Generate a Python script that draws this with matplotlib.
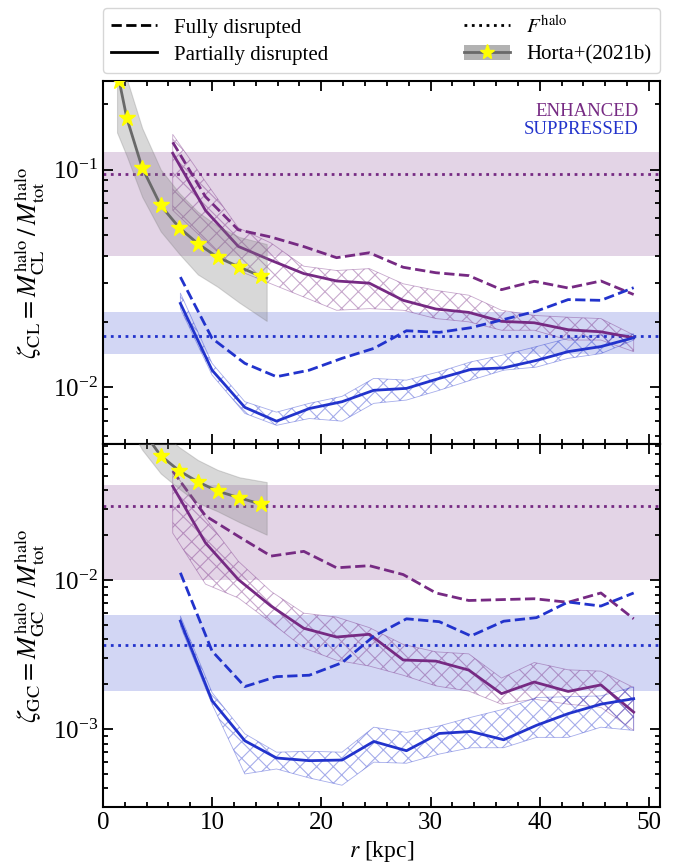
import matplotlib
matplotlib.use("Agg")
import matplotlib.pyplot as plt
from matplotlib.lines import Line2D
from matplotlib.patches import Patch
from matplotlib.ticker import MultipleLocator

plt.rcParams["font.family"] = ["Liberation Serif", "DejaVu Serif"]
plt.rcParams["mathtext.fontset"] = "stix"
plt.rcParams["axes.linewidth"] = 1.5
plt.rcParams["hatch.linewidth"] = 0.8

PURPLE = "#762a83"
BLUE = "#2233cc"

# radial bins (kpc)
r_purple = [6.4, 9.4, 12.4, 15.4, 18.4, 21.4, 24.4, 27.5, 30.5, 33.5, 36.5, 39.5, 42.6, 45.6, 48.6]
r_blue = [7.1, 10.0, 13.0, 15.9, 18.9, 21.9, 24.8, 27.8, 30.8, 33.7, 36.7, 39.7, 42.6, 45.6, 48.6]

# ---- top panel: CL ----
cl_enh_part = [0.1188, 0.0649, 0.0444, 0.0383, 0.0333, 0.0308, 0.0301, 0.0251, 0.0229, 0.0221, 0.0201, 0.0198, 0.0184, 0.0180, 0.0169]
cl_enh_part_hi = [0.145, 0.088, 0.054, 0.046, 0.036, 0.0344, 0.0351, 0.0299, 0.0279, 0.0265, 0.0226, 0.0214, 0.0210, 0.0207, 0.0174]
cl_enh_part_lo = [0.065, 0.047, 0.0344, 0.0299, 0.026, 0.0226, 0.023, 0.0226, 0.0207, 0.0200, 0.0183, 0.0183, 0.0165, 0.0165, 0.0146]
cl_enh_full = [0.1334, 0.075, 0.0529, 0.049, 0.0443, 0.0394, 0.0415, 0.0356, 0.0336, 0.0326, 0.0281, 0.0307, 0.0286, 0.0308, 0.0267]
cl_sup_part = [0.0243, 0.0120, 0.0081, 0.0070, 0.0080, 0.0086, 0.0097, 0.0099, 0.0110, 0.0121, 0.0123, 0.0133, 0.0146, 0.0154, 0.0169]
cl_sup_part_hi = [0.0271, 0.0129, 0.0086, 0.0077, 0.00845, 0.0091, 0.0110, 0.0108, 0.0118, 0.0131, 0.0141, 0.0154, 0.0168, 0.0174, 0.0176]
cl_sup_part_lo = [0.0230, 0.0114, 0.0076, 0.0067, 0.0072, 0.0070, 0.00845, 0.00875, 0.0097, 0.0108, 0.0120, 0.0124, 0.0136, 0.0143, 0.0165]
cl_sup_full = [0.0321, 0.0168, 0.0129, 0.0112, 0.0120, 0.0136, 0.0151, 0.0182, 0.0179, 0.0188, 0.0205, 0.0224, 0.0253, 0.0251, 0.0287]
cl_F_enh, cl_F_enh_lo, cl_F_enh_hi = 0.095, 0.040, 0.121
cl_F_sup, cl_F_sup_lo, cl_F_sup_hi = 0.0173, 0.0142, 0.0223

# ---- bottom panel: GC ----
gc_enh_part = [0.0427, 0.0178, 0.0101, 0.0067, 0.00475, 0.00415, 0.00433, 0.00291, 0.00286, 0.00249, 0.00173, 0.00207, 0.00179, 0.00198, 0.0013]
gc_enh_part_hi = [0.0551, 0.0261, 0.0134, 0.0084, 0.0060, 0.00565, 0.0048, 0.0037, 0.0033, 0.0032, 0.0022, 0.0028, 0.0025, 0.00245, 0.0019]
gc_enh_part_lo = [0.0207, 0.0094, 0.0076, 0.0052, 0.0035, 0.0029, 0.00265, 0.0023, 0.00195, 0.0018, 0.00147, 0.00159, 0.00147, 0.0014, 0.00098]
gc_enh_full = [0.054, 0.027, 0.0197, 0.0145, 0.0156, 0.0121, 0.0125, 0.0109, 0.0082, 0.0073, 0.0074, 0.0075, 0.0071, 0.0082, 0.0055]
gc_sup_part = [0.00531, 0.00155, 0.000835, 0.00064, 0.000614, 0.00062, 0.000826, 0.000716, 0.000935, 0.000964, 0.000848, 0.00106, 0.00127, 0.00147, 0.0016]
gc_sup_part_hi = [0.00574, 0.00176, 0.00093, 0.0007, 0.00071, 0.0007, 0.00103, 0.00095, 0.00105, 0.0012, 0.00136, 0.00163, 0.00165, 0.00167, 0.00192]
gc_sup_part_lo = [0.00492, 0.00147, 0.0005, 0.00054, 0.00047, 0.00042, 0.0006, 0.00059, 0.00068, 0.00075, 0.00075, 0.00088, 0.00088, 0.00103, 0.00098]
gc_sup_full = [0.0112, 0.00334, 0.00193, 0.00225, 0.0023, 0.00279, 0.0042, 0.0055, 0.00526, 0.00422, 0.0053, 0.0056, 0.00713, 0.0067, 0.0082]
gc_F_enh, gc_F_enh_lo, gc_F_enh_hi = 0.0313, 0.0100, 0.0438
gc_F_sup, gc_F_sup_lo, gc_F_sup_hi = 0.00367, 0.0018, 0.0058

# ---- Horta+(2021b), same in both panels ----
horta_r = [1.5, 2.2, 3.6, 5.3, 7.0, 8.7, 10.5, 12.5, 14.5]
horta_z = [0.255, 0.172, 0.102, 0.0684, 0.0541, 0.0457, 0.0396, 0.0357, 0.0323]
horta_line_r = [1.3, 1.5, 2.2, 3.6, 5.3, 7.0, 8.7, 10.5, 12.5, 14.5, 15.0]
horta_line_z = [0.29, 0.255, 0.172, 0.102, 0.0684, 0.0541, 0.0457, 0.0396, 0.0357, 0.0323, 0.0318]
horta_band_r = [1.3, 2.2, 3.6, 5.3, 7.0, 8.7, 10.5, 12.5, 15.0]
horta_band_hi = [0.40, 0.26, 0.155, 0.10, 0.078, 0.064, 0.055, 0.049, 0.0455]
horta_band_lo = [0.148, 0.115, 0.075, 0.052, 0.041, 0.033, 0.029, 0.0245, 0.0202]

fig, axes = plt.subplots(2, 1, figsize=(6.81, 8.67), dpi=100, sharex=True)
fig.subplots_adjust(left=0.151, right=0.969, top=0.9066, bottom=0.0692, hspace=0)

panels = [
    (axes[0], cl_enh_part, cl_enh_part_lo, cl_enh_part_hi, cl_enh_full,
     cl_sup_part, cl_sup_part_lo, cl_sup_part_hi, cl_sup_full,
     (cl_F_enh, cl_F_enh_lo, cl_F_enh_hi), (cl_F_sup, cl_F_sup_lo, cl_F_sup_hi),
     (0.0055, 0.255), r"$\zeta_{\rm CL} = M^{\rm halo}_{\rm CL}\,/\,M^{\rm halo}_{\rm tot}$"),
    (axes[1], gc_enh_part, gc_enh_part_lo, gc_enh_part_hi, gc_enh_full,
     gc_sup_part, gc_sup_part_lo, gc_sup_part_hi, gc_sup_full,
     (gc_F_enh, gc_F_enh_lo, gc_F_enh_hi), (gc_F_sup, gc_F_sup_lo, gc_F_sup_hi),
     (0.0003, 0.082), r"$\zeta_{\rm GC} = M^{\rm halo}_{\rm GC}\,/\,M^{\rm halo}_{\rm tot}$"),
]

for (ax, ep, ep_lo, ep_hi, ef, sp, sp_lo, sp_hi, sf, F_enh, F_sup, ylim, ylab) in panels:
    # population fractions with their spread
    ax.axhspan(F_enh[1], F_enh[2], color=PURPLE, alpha=0.2, lw=0, zorder=0)
    ax.axhspan(F_sup[1], F_sup[2], color=BLUE, alpha=0.2, lw=0, zorder=0)
    ax.axhline(F_enh[0], color=PURPLE, ls=":", lw=2, zorder=1)
    ax.axhline(F_sup[0], color=BLUE, ls=":", lw=2, zorder=1)

    # partially disrupted spread (hatched)
    ax.fill_between(r_purple, ep_lo, ep_hi, facecolor="none", edgecolor=PURPLE,
                    hatch="xx", alpha=0.4, lw=0.6, zorder=2)
    ax.fill_between(r_blue, sp_lo, sp_hi, facecolor="none", edgecolor=BLUE,
                    hatch="xx", alpha=0.4, lw=0.6, zorder=2)

    ax.plot(r_purple, ep, color=PURPLE, lw=2, zorder=3)
    ax.plot(r_purple, ef, color=PURPLE, lw=2, ls="--", zorder=3)
    ax.plot(r_blue, sp, color=BLUE, lw=2, zorder=3)
    ax.plot(r_blue, sf, color=BLUE, lw=2, ls="--", zorder=3)

    # Horta+(2021b)
    ax.fill_between(horta_band_r, horta_band_lo, horta_band_hi, color="gray",
                    alpha=0.3, lw=0.8, zorder=4)
    ax.plot(horta_line_r, horta_line_z, color="dimgray", lw=2, zorder=5)
    ax.plot(horta_r, horta_z, ls="none", marker="*", ms=12, color="yellow",
            mec="yellow", zorder=6)

    ax.set_yscale("log")
    ax.set_ylim(*ylim)
    ax.set_xlim(0, 51)
    ax.set_ylabel(ylab, fontsize=19)
    ax.xaxis.set_major_locator(MultipleLocator(10))
    ax.xaxis.set_minor_locator(MultipleLocator(2))
    ax.tick_params(which="both", direction="in", top=True, right=True, labelsize=18, width=1.3)
    ax.tick_params(which="major", length=7)
    ax.tick_params(which="minor", length=3.5)

axes[0].text(0.962, 0.917, "ENHANCED", color=PURPLE, transform=axes[0].transAxes,
             ha="right", va="center", fontsize=13.5)
axes[0].text(0.962, 0.865, "SUPPRESSED", color=BLUE, transform=axes[0].transAxes,
             ha="right", va="center", fontsize=13.5)

axes[1].set_xlabel(r"$r$ [kpc]", fontsize=17)
fig.align_ylabels(axes)

handles = [
    Line2D([], [], color="k", ls="--", lw=2),
    Line2D([], [], color="k", lw=2),
    Line2D([], [], color="k", ls=":", lw=2),
    (Patch(facecolor="gray", alpha=0.6, lw=0),
     Line2D([], [], color="dimgray", lw=2, marker="*", ms=11, mfc="yellow", mec="yellow")),
]
labels = ["Fully disrupted", "Partially disrupted", r"$F^{\rm halo}$", "Horta+(2021b)"]
axes[0].legend(handles, labels, loc="lower left", bbox_to_anchor=(0, 1.022, 1, 0.2),
               mode="expand", ncol=2, borderaxespad=0, fontsize=15,
               labelspacing=0.35, handlelength=2.2)

fig.savefig("out.png", dpi=100)
